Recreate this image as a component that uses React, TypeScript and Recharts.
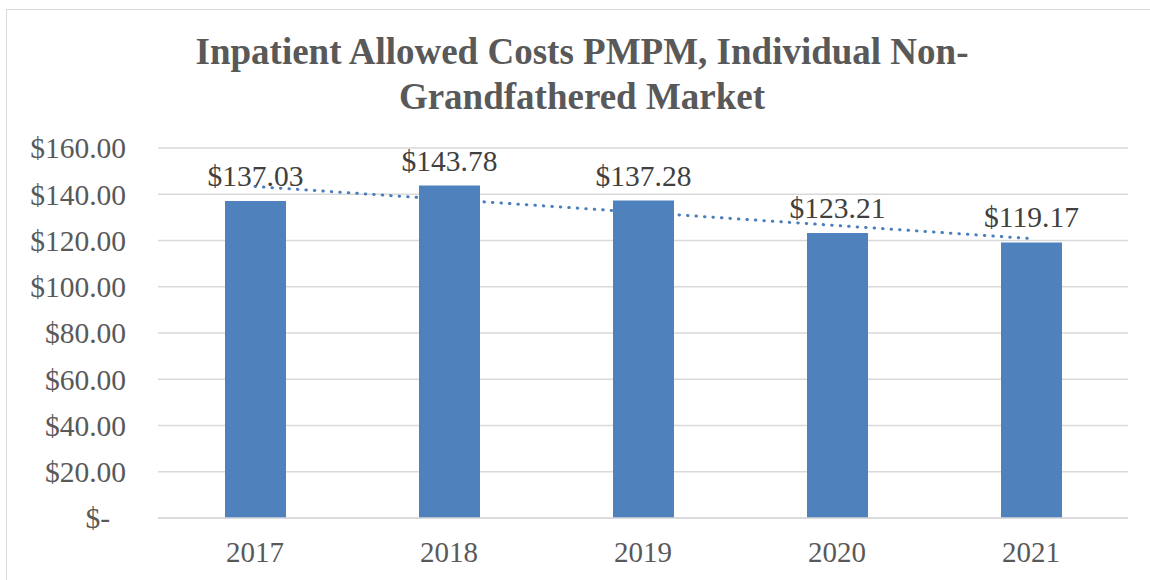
import React from "react";
import {
  ComposedChart,
  Bar,
  XAxis,
  YAxis,
  CartesianGrid,
  LabelList,
  ReferenceLine,
} from "recharts";

const years = ["2017", "2018", "2019", "2020", "2021"];
const costs = [137.03, 143.78, 137.28, 123.21, 119.17];
const yTicks = [0, 20, 40, 60, 80, 100, 120, 140, 160];
const trendStart = 143.35;
const trendEnd = 120.84;

const data = years.map((y, i) => ({ year: y, cost: costs[i] }));

const FONT = "'Liberation Serif', 'Times New Roman', serif";

const YTick = (props: any) => {
  const { x, y, payload } = props;
  const v = payload.value as number;
  const label = v === 0 ? "$-" : `$${v.toFixed(2)}`;
  return (
    <text
      x={v === 0 ? x - 16 : x}
      y={y}
      dy="0.35em"
      textAnchor="end"
      fill="#595959"
      fontFamily={FONT}
      fontSize={29.5}
    >
      {label}
    </text>
  );
};

export default function App() {
  return (
    <div
      style={{
        position: "absolute",
        left: 0,
        top: 0,
        width: 1150,
        height: 580,
        overflow: "hidden",
        background: "#fff",
      }}
    >
      <div
        style={{
          position: "absolute",
          left: 6,
          top: 9,
          width: 1170,
          height: 600,
          border: "1.5px solid #d9d9d9",
          boxSizing: "border-box",
        }}
      />
      <div
        style={{
          position: "absolute",
          left: 0,
          top: 29,
          width: 1164,
          fontFamily: FONT,
          fontWeight: "bold",
          fontSize: 37,
          lineHeight: "45px",
          color: "#595959",
          textAlign: "center",
        }}
      >
        Inpatient Allowed Costs PMPM, Individual Non-
        <br />
        Grandfathered Market
      </div>
      <div style={{ position: "absolute", left: 0, top: 0 }}>
        <ComposedChart
          width={1150}
          height={580}
          data={data}
          margin={{ top: 148, right: 22, bottom: 22, left: 0 }}
        >
          <CartesianGrid
            vertical={false}
            stroke="#d9d9d9"
            strokeWidth={1.5}
          />
          <XAxis
            dataKey="year"
            tickLine={false}
            tickSize={0}
            tickMargin={23}
            height={40}
            axisLine={{ stroke: "#d9d9d9", strokeWidth: 1.5 }}
            tick={{ fill: "#595959", fontFamily: FONT, fontSize: 29 }}
          />
          <YAxis
            domain={[0, 160]}
            ticks={yTicks}
            width={158}
            tickLine={false}
            tickSize={0}
            tickMargin={32}
            axisLine={false}
            tick={<YTick />}
            interval={0}
          />
          <ReferenceLine
            segment={[
              { x: "2017", y: trendStart },
              { x: "2021", y: trendEnd },
            ]}
            stroke="#4a7ebb"
            strokeWidth={3}
            strokeDasharray="0.5 8"
            strokeLinecap="round"
            ifOverflow="visible"
            zIndex={100}
          />
          <Bar
            dataKey="cost"
            fill="#4F81BD"
            barSize={61}
            isAnimationActive={false}
          >
            <LabelList
              dataKey="cost"
              position="top"
              offset={15}
              formatter={(v: any) => `$${Number(v).toFixed(2)}`}
              fill="#404040"
              fontFamily={FONT}
              fontSize={29.5}
            />
          </Bar>
        </ComposedChart>
      </div>
    </div>
  );
}
